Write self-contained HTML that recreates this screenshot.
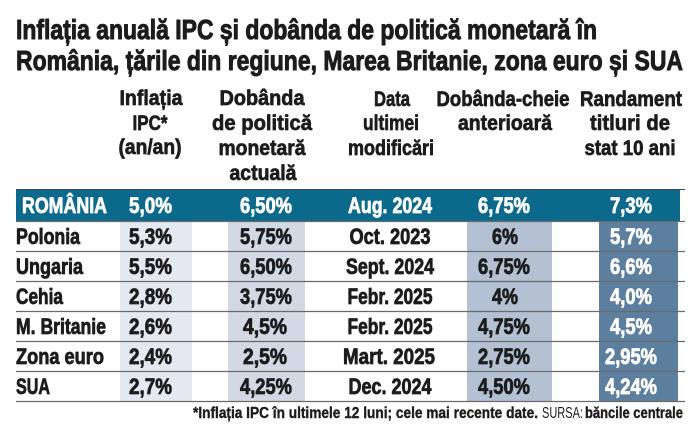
<!DOCTYPE html>
<html>
<head>
<meta charset="utf-8">
<style>
  html,body{margin:0;padding:0;background:#fff;}
  svg{display:block;}
  text{font-family:"Liberation Sans","DejaVu Sans",sans-serif;font-weight:bold;fill:#1c1c1c;stroke:#1c1c1c;stroke-linejoin:round;}
  .t{font-size:28px;stroke-width:1.0px;}
  .h{font-size:21px;text-anchor:middle;stroke-width:0.7px;}
  .d{font-size:22px;stroke-width:0.8px;}
  .c{text-anchor:middle;}
  .w{fill:#ffffff;stroke:#ffffff;}
  .f{font-size:16px;stroke-width:0.4px;}
</style>
</head>
<body>
<svg width="699" height="430" viewBox="0 0 699 430" xmlns="http://www.w3.org/2000/svg">
  <rect x="0" y="0" width="699" height="430" fill="#ffffff"/>
  <!-- Title -->
  <text class="t" x="16" y="39" textLength="581" lengthAdjust="spacingAndGlyphs">Inflația anuală IPC și dobânda de politică monetară în</text>
  <text class="t" x="16" y="70" textLength="667" lengthAdjust="spacingAndGlyphs">România, țările din regiune, Marea Britanie, zona euro și SUA</text>

  <!-- Header -->
  <text class="h" x="151" y="105" textLength="63" lengthAdjust="spacingAndGlyphs">Inflația</text>
  <text class="h" x="150" y="130" textLength="35" lengthAdjust="spacingAndGlyphs">IPC*</text>
  <text class="h" x="150" y="154" textLength="63" lengthAdjust="spacingAndGlyphs">(an/an)</text>

  <text class="h" x="262" y="105" textLength="85" lengthAdjust="spacingAndGlyphs">Dobânda</text>
  <text class="h" x="262" y="130" textLength="100" lengthAdjust="spacingAndGlyphs">de politică</text>
  <text class="h" x="262" y="155" textLength="87" lengthAdjust="spacingAndGlyphs">monetară</text>
  <text class="h" x="263" y="180" textLength="67" lengthAdjust="spacingAndGlyphs">actuală</text>

  <text class="h" x="392" y="106" textLength="36" lengthAdjust="spacingAndGlyphs">Data</text>
  <text class="h" x="391" y="130" textLength="56" lengthAdjust="spacingAndGlyphs">ultimei</text>
  <text class="h" x="391" y="155" textLength="86" lengthAdjust="spacingAndGlyphs">modificări</text>

  <text class="h" x="503" y="106" textLength="133" lengthAdjust="spacingAndGlyphs">Dobânda-cheie</text>
  <text class="h" x="505" y="130" textLength="94" lengthAdjust="spacingAndGlyphs">anterioară</text>

  <text class="h" x="631" y="106" textLength="102" lengthAdjust="spacingAndGlyphs">Randament</text>
  <text class="h" x="630" y="130" textLength="80" lengthAdjust="spacingAndGlyphs">titluri de</text>
  <text class="h" x="630" y="155" textLength="91" lengthAdjust="spacingAndGlyphs">stat 10 ani</text>

  <!-- Column bands -->
  <rect x="120" y="221" width="72" height="180" fill="#e4e8f0"/>
  <rect x="228" y="221" width="77" height="180" fill="#d2d9e5"/>
  <rect x="467" y="221" width="85" height="180" fill="#b4c1d3"/>
  <rect x="599" y="221" width="79" height="180" fill="#5c7fa0"/>

  <!-- Romania bar -->
  <rect x="16" y="189" width="664" height="32" fill="#0b6a8c"/>
  <line x1="16" y1="189.5" x2="685" y2="189.5" stroke="#3a4a55" stroke-width="1"/>

  <!-- Row lines -->
  <g stroke="#6a6a6a" stroke-width="1.3">
    <line x1="16" y1="221.5" x2="685" y2="221.5"/>
    <line x1="16" y1="251.5" x2="685" y2="251.5"/>
    <line x1="16" y1="281.5" x2="685" y2="281.5"/>
    <line x1="16" y1="311.5" x2="685" y2="311.5"/>
    <line x1="16" y1="341.5" x2="685" y2="341.5"/>
    <line x1="16" y1="371.5" x2="685" y2="371.5"/>
    <line x1="16" y1="401.5" x2="685" y2="401.5"/>
  </g>

  <!-- Romania row -->
  <text class="d w" x="22" y="213" textLength="85" lengthAdjust="spacingAndGlyphs">ROMÂNIA</text>
  <text class="d w c" x="150.5" y="213" textLength="43" lengthAdjust="spacingAndGlyphs">5,0%</text>
  <text class="d w c" x="266" y="213" textLength="52" lengthAdjust="spacingAndGlyphs">6,50%</text>
  <text class="d w c" x="390" y="213" textLength="84" lengthAdjust="spacingAndGlyphs">Aug. 2024</text>
  <text class="d w c" x="504" y="213" textLength="52" lengthAdjust="spacingAndGlyphs">6,75%</text>
  <text class="d w c" x="631" y="213" textLength="42" lengthAdjust="spacingAndGlyphs">7,3%</text>

  <!-- Polonia -->
  <text class="d" x="16" y="244" textLength="64" lengthAdjust="spacingAndGlyphs">Polonia</text>
  <text class="d c" x="150.5" y="244" textLength="43" lengthAdjust="spacingAndGlyphs">5,3%</text>
  <text class="d c" x="266" y="244" textLength="52" lengthAdjust="spacingAndGlyphs">5,75%</text>
  <text class="d c" x="390" y="244" textLength="81" lengthAdjust="spacingAndGlyphs">Oct. 2023</text>
  <text class="d c" x="505" y="244" textLength="26" lengthAdjust="spacingAndGlyphs">6%</text>
  <text class="d w c" x="631" y="244" textLength="42" lengthAdjust="spacingAndGlyphs">5,7%</text>

  <!-- Ungaria -->
  <text class="d" x="16" y="274" textLength="67" lengthAdjust="spacingAndGlyphs">Ungaria</text>
  <text class="d c" x="150.5" y="274" textLength="43" lengthAdjust="spacingAndGlyphs">5,5%</text>
  <text class="d c" x="266" y="274" textLength="52" lengthAdjust="spacingAndGlyphs">6,50%</text>
  <text class="d c" x="390" y="274" textLength="88" lengthAdjust="spacingAndGlyphs">Sept. 2024</text>
  <text class="d c" x="504" y="274" textLength="52" lengthAdjust="spacingAndGlyphs">6,75%</text>
  <text class="d w c" x="631" y="274" textLength="42" lengthAdjust="spacingAndGlyphs">6,6%</text>

  <!-- Cehia -->
  <text class="d" x="16" y="304" textLength="47" lengthAdjust="spacingAndGlyphs">Cehia</text>
  <text class="d c" x="150.5" y="304" textLength="43" lengthAdjust="spacingAndGlyphs">2,8%</text>
  <text class="d c" x="266" y="304" textLength="52" lengthAdjust="spacingAndGlyphs">3,75%</text>
  <text class="d c" x="390" y="304" textLength="85" lengthAdjust="spacingAndGlyphs">Febr. 2025</text>
  <text class="d c" x="505" y="304" textLength="26" lengthAdjust="spacingAndGlyphs">4%</text>
  <text class="d w c" x="631" y="304" textLength="42" lengthAdjust="spacingAndGlyphs">4,0%</text>

  <!-- M. Britanie -->
  <text class="d" x="16" y="334" textLength="90" lengthAdjust="spacingAndGlyphs">M. Britanie</text>
  <text class="d c" x="150.5" y="334" textLength="43" lengthAdjust="spacingAndGlyphs">2,6%</text>
  <text class="d c" x="265" y="334" textLength="44" lengthAdjust="spacingAndGlyphs">4,5%</text>
  <text class="d c" x="390" y="334" textLength="85" lengthAdjust="spacingAndGlyphs">Febr. 2025</text>
  <text class="d c" x="504" y="334" textLength="52" lengthAdjust="spacingAndGlyphs">4,75%</text>
  <text class="d w c" x="631" y="334" textLength="42" lengthAdjust="spacingAndGlyphs">4,5%</text>

  <!-- Zona euro -->
  <text class="d" x="16" y="364" textLength="88" lengthAdjust="spacingAndGlyphs">Zona euro</text>
  <text class="d c" x="150.5" y="364" textLength="43" lengthAdjust="spacingAndGlyphs">2,4%</text>
  <text class="d c" x="265" y="364" textLength="44" lengthAdjust="spacingAndGlyphs">2,5%</text>
  <text class="d c" x="389" y="364" textLength="92" lengthAdjust="spacingAndGlyphs">Mart. 2025</text>
  <text class="d c" x="504" y="364" textLength="52" lengthAdjust="spacingAndGlyphs">2,75%</text>
  <text class="d w c" x="631" y="364" textLength="52" lengthAdjust="spacingAndGlyphs">2,95%</text>

  <!-- SUA -->
  <text class="d" x="16" y="394" textLength="34" lengthAdjust="spacingAndGlyphs">SUA</text>
  <text class="d c" x="150.5" y="394" textLength="43" lengthAdjust="spacingAndGlyphs">2,7%</text>
  <text class="d c" x="266" y="394" textLength="52" lengthAdjust="spacingAndGlyphs">4,25%</text>
  <text class="d c" x="390" y="394" textLength="83" lengthAdjust="spacingAndGlyphs">Dec. 2024</text>
  <text class="d c" x="504" y="394" textLength="52" lengthAdjust="spacingAndGlyphs">4,50%</text>
  <text class="d w c" x="631" y="394" textLength="52" lengthAdjust="spacingAndGlyphs">4,24%</text>

  <!-- Footer -->
  <text class="f" x="193" y="418" textLength="345" lengthAdjust="spacingAndGlyphs">*Inflația IPC în ultimele 12 luni; cele mai recente date.</text>
  <text class="f" x="542" y="418" textLength="41" lengthAdjust="spacingAndGlyphs" style="font-weight:normal;stroke-width:0">SURSA:</text>
  <text class="f" x="585" y="418" textLength="98" lengthAdjust="spacingAndGlyphs">băncile centrale</text>
</svg>
</body>
</html>
